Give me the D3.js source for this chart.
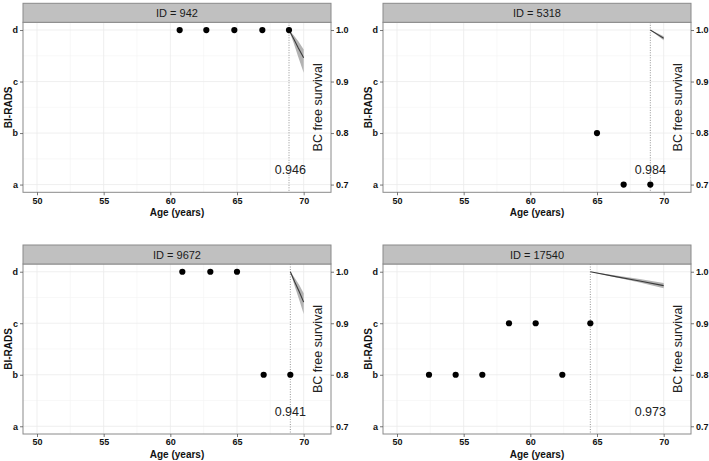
<!DOCTYPE html>
<html>
<head>
<meta charset="utf-8">
<script src="https://cdn.jsdelivr.net/npm/d3@7"></script>
<style>
  body { margin: 0; background: #fff; }
  svg { display: block; }
  text { font-family: "Liberation Sans", Arial, sans-serif; }
</style>
</head>
<body>
<svg id="chart" width="709" height="461"></svg>
<script>
// ---- data ----
const panelIds = ["942", "5318", "9672", "17540"];
const biradsLevels = ["a", "b", "c", "d"];
const ageTicks = [50, 55, 60, 65, 70];
const survTicks = [0.7, 0.8, 0.9, 1.0];

const ageP1 = [60.7, 62.7, 64.8, 66.9, 68.9];
const radsP1 = ["d", "d", "d", "d", "d"];
const ageP2 = [65.0, 67.0, 69.0];
const radsP2 = ["b", "a", "a"];
const ageP3 = [60.9, 63.0, 65.0, 67.0, 69.0];
const radsP3 = ["d", "d", "d", "b", "b"];
const ageP4 = [52.4, 54.4, 56.4, 58.4, 60.4, 62.4, 64.5];
const radsP4 = ["b", "b", "b", "c", "c", "b", "c"];

const curveAgeP1 = [68.9, 69.25, 69.6, 70.0];
const survP1 = [1.0, 0.983, 0.965, 0.946];
const lowP1 = [1.0, 0.975, 0.947, 0.917];
const upP1 = [1.0, 0.990, 0.978, 0.962];

const curveAgeP2 = [69.0, 69.5, 70.0];
const survP2 = [1.0, 0.992, 0.984];
const lowP2 = [1.0, 0.990, 0.980];
const upP2 = [1.0, 0.994, 0.988];

const curveAgeP3 = [69.0, 69.33, 69.67, 70.0];
const survP3 = [1.0, 0.980, 0.961, 0.941];
const lowP3 = [1.0, 0.972, 0.945, 0.918];
const upP3 = [1.0, 0.988, 0.974, 0.958];

const curveAgeP4 = [64.5, 66.3, 68.2, 70.0];
const survP4 = [1.0, 0.991, 0.982, 0.973];
const lowP4 = [1.0, 0.990, 0.979, 0.968];
const upP4 = [1.0, 0.993, 0.986, 0.978];

const landmarkAge = [68.9, 69.0, 69.0, 64.5];
const survLabels = ["0.946", "0.984", "0.941", "0.973"];

const panels = [
  {id: panelIds[0], age: ageP1, rads: radsP1, cAge: curveAgeP1, surv: survP1, low: lowP1, up: upP1, vline: landmarkAge[0], label: survLabels[0]},
  {id: panelIds[1], age: ageP2, rads: radsP2, cAge: curveAgeP2, surv: survP2, low: lowP2, up: upP2, vline: landmarkAge[1], label: survLabels[1]},
  {id: panelIds[2], age: ageP3, rads: radsP3, cAge: curveAgeP3, surv: survP3, low: lowP3, up: upP3, vline: landmarkAge[2], label: survLabels[2]},
  {id: panelIds[3], age: ageP4, rads: radsP4, cAge: curveAgeP4, surv: survP4, low: lowP4, up: upP4, vline: landmarkAge[3], label: survLabels[3]}
];

// ---- layout ----
const svg = d3.select("#chart");
const W = 308, H = 170, stripH = 19;
const origins = [[23, 22.3], [383, 22.3], [23, 264], [383, 264]];

const x = d3.scaleLinear().domain([48.95, 72.05]).range([0, W]);
const yLev = d3.scaleLinear().domain([0.85, 4.15]).range([H, 0]);
const yS = d3.scaleLinear().domain([0.685, 1.015]).range([H, 0]);
const levY = l => yLev(biradsLevels.indexOf(l) + 1);

panels.forEach((p, i) => {
  const [ox, oy] = origins[i];
  const g = svg.append("g").attr("transform", `translate(${ox},${oy})`);

  // grid minor
  const minorX = [52.5, 57.5, 62.5, 67.5];
  g.selectAll(".gmx").data(minorX).join("line")
    .attr("x1", d => x(d)).attr("x2", d => x(d)).attr("y1", 0).attr("y2", H)
    .attr("stroke", "#f4f4f4").attr("stroke-width", 0.6);
  g.selectAll(".gmy").data([1.5, 2.5, 3.5]).join("line")
    .attr("x1", 0).attr("x2", W).attr("y1", d => yLev(d)).attr("y2", d => yLev(d))
    .attr("stroke", "#f4f4f4").attr("stroke-width", 0.6);
  // grid major
  g.selectAll(".gx").data(ageTicks).join("line")
    .attr("x1", d => x(d)).attr("x2", d => x(d)).attr("y1", 0).attr("y2", H)
    .attr("stroke", "#ebebeb").attr("stroke-width", 0.8);
  g.selectAll(".gy").data([1, 2, 3, 4]).join("line")
    .attr("x1", 0).attr("x2", W).attr("y1", d => yLev(d)).attr("y2", d => yLev(d))
    .attr("stroke", "#ebebeb").attr("stroke-width", 0.8);

  // vertical landmark line
  g.append("line")
    .attr("x1", x(p.vline)).attr("x2", x(p.vline)).attr("y1", 0).attr("y2", H)
    .attr("stroke", "#777").attr("stroke-width", 0.8).attr("stroke-dasharray", "1,1.5");

  // ribbon + survival line
  const rib = p.cAge.map((a, k) => ({a, lo: p.low[k], hi: p.up[k], s: p.surv[k]}));
  g.append("path").datum(rib)
    .attr("d", d3.area().x(d => x(d.a)).y0(d => yS(d.lo)).y1(d => yS(d.hi)))
    .attr("fill", "#9a9a9a").attr("fill-opacity", 0.75);
  g.append("path").datum(rib)
    .attr("d", d3.line().x(d => x(d.a)).y(d => yS(d.s)))
    .attr("fill", "none").attr("stroke", "#3a3a3a").attr("stroke-width", 1.1);

  // points
  g.selectAll(".pt").data(p.age.map((a, k) => ({a, r: p.rads[k]}))).join("circle")
    .attr("cx", d => x(d.a)).attr("cy", d => levY(d.r)).attr("r", 3.1).attr("fill", "#000");

  // survival label
  g.append("text").attr("x", x(69)).attr("y", yS(0.728))
    .attr("text-anchor", "middle").attr("dominant-baseline", "central")
    .attr("font-size", 12.5).attr("fill", "#222").text(p.label);

  // secondary axis title inside panel
  g.append("text")
    .attr("transform", `translate(${x(71.05)},${yS(0.85)}) rotate(-90)`)
    .attr("text-anchor", "middle").attr("dominant-baseline", "central")
    .attr("font-size", 12.5).attr("fill", "#222").text("BC free survival");

  // panel border
  g.append("rect").attr("x", 0).attr("y", 0).attr("width", W).attr("height", H)
    .attr("fill", "none").attr("stroke", "#8a8a8a").attr("stroke-width", 1);

  // strip
  g.append("rect").attr("x", 0).attr("y", -stripH).attr("width", W).attr("height", stripH)
    .attr("fill", "#c0c0c0").attr("stroke", "#8a8a8a").attr("stroke-width", 1);
  g.append("text").attr("x", W / 2).attr("y", -stripH / 2)
    .attr("text-anchor", "middle").attr("dominant-baseline", "central")
    .attr("font-size", 11).attr("fill", "#1a1a1a").text("ID = " + p.id);

  // bottom axis
  const xa = g.append("g").attr("transform", `translate(0,${H})`)
    .call(d3.axisBottom(x).tickValues(ageTicks).tickSize(3).tickPadding(2).tickFormat(d3.format("d")));
  // left axis
  const ya = g.append("g")
    .call(d3.axisLeft(yLev).tickValues([1, 2, 3, 4]).tickSize(3).tickPadding(2).tickFormat(d => biradsLevels[d - 1]));
  // right axis
  const ra = g.append("g").attr("transform", `translate(${W},0)`)
    .call(d3.axisRight(yS).tickValues(survTicks).tickSize(3).tickPadding(2).tickFormat(d3.format(".1f")));
  [xa, ya, ra].forEach(ax => {
    ax.select(".domain").remove();
    ax.selectAll(".tick line").attr("stroke", "#555").attr("stroke-width", 0.8);
    ax.selectAll(".tick text").attr("font-size", 9).attr("font-weight", "bold")
      .attr("fill", "#111").style("font-family", "'Liberation Sans', Arial, sans-serif");
  });

  // axis titles
  g.append("text").attr("x", W / 2).attr("y", H + 20)
    .attr("text-anchor", "middle").attr("dominant-baseline", "central")
    .attr("font-size", 10).attr("font-weight", "bold").attr("fill", "#111").text("Age (years)");
  g.append("text")
    .attr("transform", `translate(-15,${H / 2}) rotate(-90)`)
    .attr("text-anchor", "middle").attr("dominant-baseline", "central")
    .attr("font-size", 10).attr("font-weight", "bold").attr("fill", "#111").text("BI-RADS");
});
</script>
</body>
</html>
